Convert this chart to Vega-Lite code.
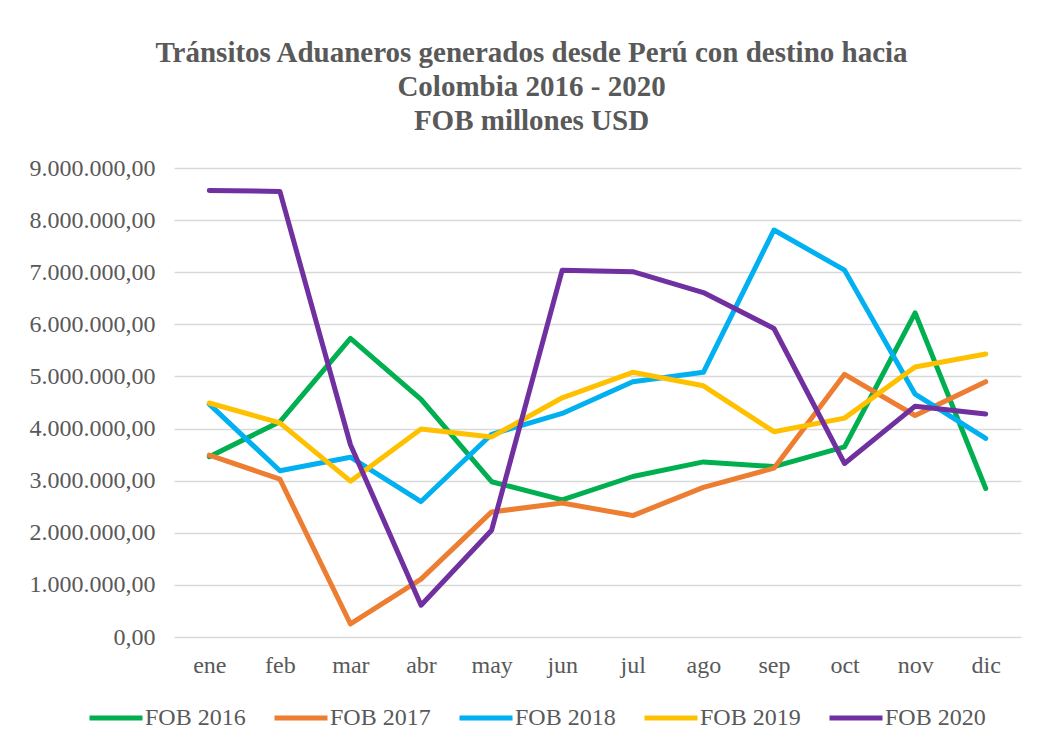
{
  "$schema": "https://vega.github.io/schema/vega-lite/v6.json",
  "width": 847,
  "height": 469,
  "autosize": {"type": "none"},
  "padding": {"left": 174, "top": 168, "right": 19, "bottom": 110},
  "background": "white",
  "title": {
    "text": ["Tránsitos Aduaneros generados desde Perú con destino hacia", "Colombia 2016 - 2020", "FOB millones USD"],
    "font": "Liberation Serif",
    "fontSize": 29,
    "fontWeight": "bold",
    "color": "#595959",
    "anchor": "middle",
    "frame": "group",
    "dx": -66,
    "offset": 20,
    "lineHeight": 34
  },
  "config": {
    "locale": {"number": {"decimal": ",", "thousands": ".", "grouping": [3], "currency": ["", ""]}},
    "view": {"stroke": null},
    "font": "Liberation Serif"
  },
  "data": {
    "values": [
      {"mes": "ene", "serie": "FOB 2016", "valor": 3460000},
      {"mes": "feb", "serie": "FOB 2016", "valor": 4130000},
      {"mes": "mar", "serie": "FOB 2016", "valor": 5730000},
      {"mes": "abr", "serie": "FOB 2016", "valor": 4560000},
      {"mes": "may", "serie": "FOB 2016", "valor": 2980000},
      {"mes": "jun", "serie": "FOB 2016", "valor": 2630000},
      {"mes": "jul", "serie": "FOB 2016", "valor": 3080000},
      {"mes": "ago", "serie": "FOB 2016", "valor": 3360000},
      {"mes": "sep", "serie": "FOB 2016", "valor": 3270000},
      {"mes": "oct", "serie": "FOB 2016", "valor": 3650000},
      {"mes": "nov", "serie": "FOB 2016", "valor": 6220000},
      {"mes": "dic", "serie": "FOB 2016", "valor": 2850000},
      {"mes": "ene", "serie": "FOB 2017", "valor": 3490000},
      {"mes": "feb", "serie": "FOB 2017", "valor": 3030000},
      {"mes": "mar", "serie": "FOB 2017", "valor": 250000},
      {"mes": "abr", "serie": "FOB 2017", "valor": 1110000},
      {"mes": "may", "serie": "FOB 2017", "valor": 2400000},
      {"mes": "jun", "serie": "FOB 2017", "valor": 2570000},
      {"mes": "jul", "serie": "FOB 2017", "valor": 2330000},
      {"mes": "ago", "serie": "FOB 2017", "valor": 2870000},
      {"mes": "sep", "serie": "FOB 2017", "valor": 3240000},
      {"mes": "oct", "serie": "FOB 2017", "valor": 5040000},
      {"mes": "nov", "serie": "FOB 2017", "valor": 4250000},
      {"mes": "dic", "serie": "FOB 2017", "valor": 4900000},
      {"mes": "ene", "serie": "FOB 2018", "valor": 4470000},
      {"mes": "feb", "serie": "FOB 2018", "valor": 3190000},
      {"mes": "mar", "serie": "FOB 2018", "valor": 3450000},
      {"mes": "abr", "serie": "FOB 2018", "valor": 2600000},
      {"mes": "may", "serie": "FOB 2018", "valor": 3890000},
      {"mes": "jun", "serie": "FOB 2018", "valor": 4290000},
      {"mes": "jul", "serie": "FOB 2018", "valor": 4900000},
      {"mes": "ago", "serie": "FOB 2018", "valor": 5080000},
      {"mes": "sep", "serie": "FOB 2018", "valor": 7810000},
      {"mes": "oct", "serie": "FOB 2018", "valor": 7040000},
      {"mes": "nov", "serie": "FOB 2018", "valor": 4660000},
      {"mes": "dic", "serie": "FOB 2018", "valor": 3810000},
      {"mes": "ene", "serie": "FOB 2019", "valor": 4490000},
      {"mes": "feb", "serie": "FOB 2019", "valor": 4110000},
      {"mes": "mar", "serie": "FOB 2019", "valor": 2990000},
      {"mes": "abr", "serie": "FOB 2019", "valor": 3990000},
      {"mes": "may", "serie": "FOB 2019", "valor": 3840000},
      {"mes": "jun", "serie": "FOB 2019", "valor": 4590000},
      {"mes": "jul", "serie": "FOB 2019", "valor": 5080000},
      {"mes": "ago", "serie": "FOB 2019", "valor": 4820000},
      {"mes": "sep", "serie": "FOB 2019", "valor": 3940000},
      {"mes": "oct", "serie": "FOB 2019", "valor": 4200000},
      {"mes": "nov", "serie": "FOB 2019", "valor": 5180000},
      {"mes": "dic", "serie": "FOB 2019", "valor": 5430000},
      {"mes": "ene", "serie": "FOB 2020", "valor": 8570000},
      {"mes": "feb", "serie": "FOB 2020", "valor": 8550000},
      {"mes": "mar", "serie": "FOB 2020", "valor": 3690000},
      {"mes": "abr", "serie": "FOB 2020", "valor": 610000},
      {"mes": "may", "serie": "FOB 2020", "valor": 2050000},
      {"mes": "jun", "serie": "FOB 2020", "valor": 7040000},
      {"mes": "jul", "serie": "FOB 2020", "valor": 7010000},
      {"mes": "ago", "serie": "FOB 2020", "valor": 6610000},
      {"mes": "sep", "serie": "FOB 2020", "valor": 5920000},
      {"mes": "oct", "serie": "FOB 2020", "valor": 3330000},
      {"mes": "nov", "serie": "FOB 2020", "valor": 4430000},
      {"mes": "dic", "serie": "FOB 2020", "valor": 4280000}
    ]
  },
  "mark": {"type": "line", "strokeWidth": 5, "strokeCap": "round", "strokeJoin": "round"},
  "encoding": {
    "x": {
      "field": "mes",
      "type": "ordinal",
      "sort": ["ene", "feb", "mar", "abr", "may", "jun", "jul", "ago", "sep", "oct", "nov", "dic"],
      "scale": {"type": "point", "padding": 0.5},
      "axis": {
        "title": null,
        "labelAngle": 0,
        "ticks": false,
        "domain": false,
        "grid": false,
        "labelFont": "Liberation Serif",
        "labelFontSize": 24,
        "labelColor": "#595959",
        "labelPadding": 16
      }
    },
    "y": {
      "field": "valor",
      "type": "quantitative",
      "scale": {"domain": [0, 9000000], "nice": false},
      "axis": {
        "title": null,
        "values": [0, 1000000, 2000000, 3000000, 4000000, 5000000, 6000000, 7000000, 8000000, 9000000],
        "format": ",.2f",
        "ticks": false,
        "domain": false,
        "grid": true,
        "gridColor": "#d9d9d9",
        "gridWidth": 1.5,
        "labelFont": "Liberation Serif",
        "labelFontSize": 24,
        "labelColor": "#595959",
        "labelPadding": 19
      }
    },
    "color": {
      "field": "serie",
      "type": "nominal",
      "scale": {
        "domain": ["FOB 2016", "FOB 2017", "FOB 2018", "FOB 2019", "FOB 2020"],
        "range": ["#00B050", "#ED7D31", "#00B0F0", "#FFC000", "#7030A0"]
      },
      "legend": {
        "title": null,
        "orient": "none",
        "direction": "horizontal",
        "legendX": -87,
        "legendY": 521,
        "symbolType": "stroke",
        "symbolSize": 2809,
        "symbolStrokeWidth": 5,
        "labelFont": "Liberation Serif",
        "labelFontSize": 24,
        "labelColor": "#595959",
        "labelOffset": 0,
        "columnPadding": 18,
        "labelLimit": 300
      }
    }
  }
}
